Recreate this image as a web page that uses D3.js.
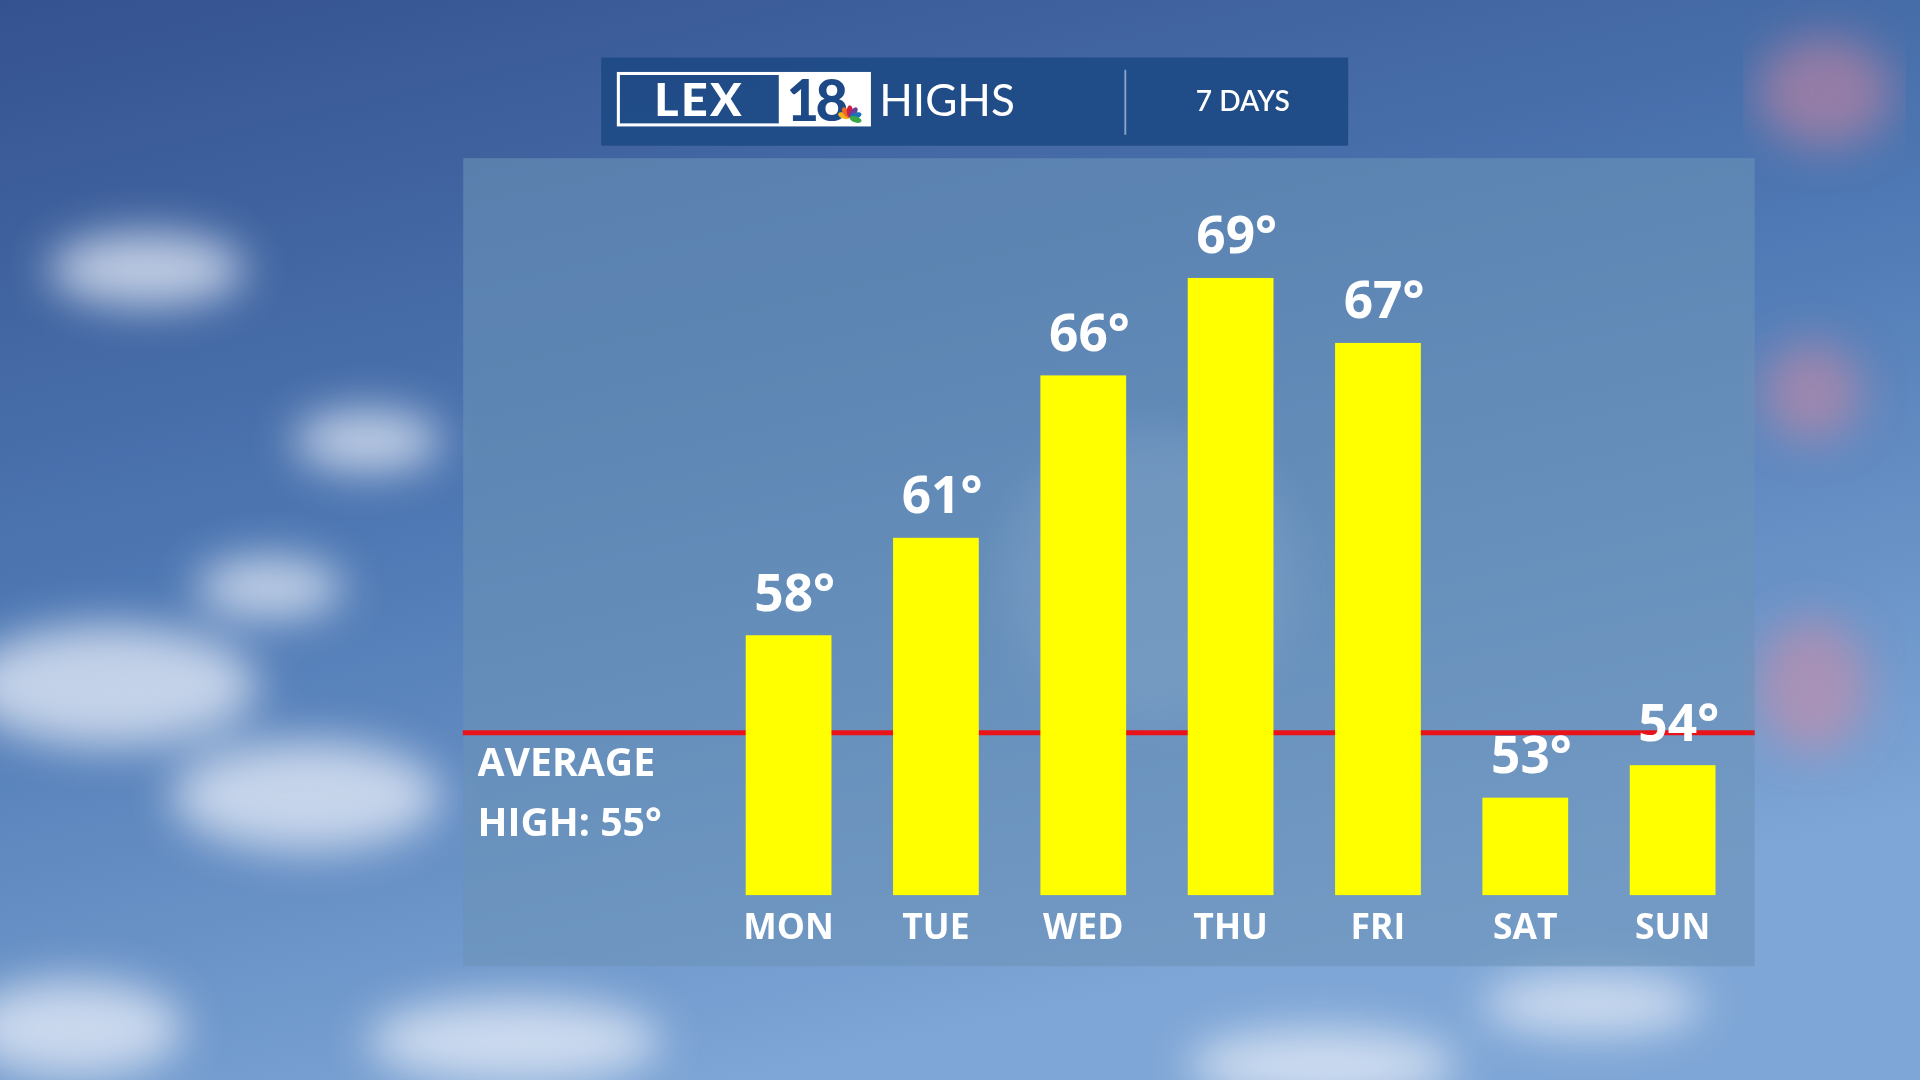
<!DOCTYPE html>
<html><head><meta charset="utf-8">
<script src="https://cdn.jsdelivr.net/npm/d3@7"></script>
<style>html,body{margin:0;padding:0;overflow:hidden;background:#3a5f9a}</style>
</head><body>
<svg id="c" width="1920" height="1080" viewBox="0 0 1568 882"></svg>
<script>
const days = ["MON","TUE","WED","THU","FRI","SAT","SUN"];
const highs = [58,61,66,69,67,53,54];
const averageHigh = 55;
const title = "HIGHS";
const subtitle = "7 DAYS";

const svg = d3.select("#c");
const defs = svg.append("defs");
const bg = defs.append("linearGradient").attr("id","sky").attr("x1",0).attr("y1",0).attr("x2",0.4).attr("y2",1);
bg.append("stop").attr("offset",0).attr("stop-color","#34528f");
bg.append("stop").attr("offset",0.5).attr("stop-color","#4f79b4");
bg.append("stop").attr("offset",1).attr("stop-color","#7ea6d6");
svg.append("rect").attr("width",1568).attr("height",882).attr("fill","url(#sky)");
defs.append("filter").attr("id","blur").append("feGaussianBlur").attr("stdDeviation",18);
const clouds = [[90,560,120,50],[250,650,110,45],[120,220,80,30],[300,360,60,25],[60,840,90,40],[420,850,120,35],[1080,870,110,30],[1300,820,90,25],[220,480,60,25]];
svg.append("g").attr("filter","url(#blur)").selectAll("ellipse").data(clouds).join("ellipse")
 .attr("cx",d=>d[0]).attr("cy",d=>d[1]).attr("rx",d=>d[2]).attr("ry",d=>d[3]).attr("fill","#e8eef8").attr("opacity",0.75);
svg.append("g").attr("filter","url(#blur)").selectAll("ellipse").data([[1490,75,55,45],[1480,560,45,55],[1480,320,40,40]]).join("ellipse")
 .attr("cx",d=>d[0]).attr("cy",d=>d[1]).attr("rx",d=>d[2]).attr("ry",d=>d[3]).attr("fill","#e08aa0").attr("opacity",0.5);
svg.append("ellipse").attr("cx",940).attr("cy",470).attr("rx",120).attr("ry",120).attr("fill","#c8dcef").attr("opacity",0.3).attr("filter","url(#blur)");

// panel
svg.append("rect").attr("x",378).attr("y",129).attr("width",1055).attr("height",660).attr("fill","#6a93b8").attr("opacity",0.6);

// header
svg.append("rect").attr("x",491).attr("y",47).attr("width",610).attr("height",72).attr("fill","#1d4a86").attr("opacity",0.92);
svg.append("line").attr("x1",919).attr("x2",919).attr("y1",57).attr("y2",110).attr("stroke","#8aa6cc").attr("stroke-width",1.5);
svg.append("rect").attr("x",505).attr("y",60).attr("width",205).attr("height",42).attr("fill","none").attr("stroke","#fff").attr("stroke-width",2.5);
svg.append("rect").attr("x",636).attr("y",60).attr("width",74).attr("height",42).attr("fill","#fff");
svg.append("text").attr("x",571).attr("y",95).attr("text-anchor","middle").attr("fill","#fff").attr("font-family","Lato").attr("font-weight",900).attr("font-size",38).attr("letter-spacing",2).text("LEX");
svg.append("text").attr("x",666).attr("y",99).attr("text-anchor","middle").attr("fill","#1d4a86").attr("font-family","Lato").attr("font-weight",900).attr("font-size",46).attr("letter-spacing",-3).text("18");
const pc = ["#f6b21a","#ef6b22","#d11f3f","#6b3f98","#1e6fb8","#37a845"];
pc.forEach((c,i)=>{const a=(-180+ i*36+18)*Math.PI/180;
 svg.append("ellipse").attr("cx",694+Math.cos(a)*5).attr("cy",96+Math.sin(a)*5).attr("rx",5).attr("ry",2.5)
 .attr("transform",`rotate(${-180+i*36+18},${694+Math.cos(a)*5},${96+Math.sin(a)*5})`).attr("fill",c);});
svg.append("text").attr("x",718).attr("y",95).attr("fill","#fff").attr("font-family","Lato").attr("font-size",36).text(title);
svg.append("text").attr("x",1015).attr("y",91).attr("text-anchor","middle").attr("fill","#fff").attr("font-family","Lato").attr("font-weight",600).attr("font-size",23).text(subtitle);

// scales
const x = d3.scaleBand().domain(days).range([609,1401]).paddingInner(0.418).paddingOuter(0);
const y = d3.scaleLinear().domain([50,69]).range([731,227]);
const f = "Open Sans";
svg.append("line").attr("x1",378).attr("x2",1433).attr("y1",y(averageHigh)).attr("y2",y(averageHigh)).attr("stroke","#e8141a").attr("stroke-width",4);
svg.selectAll(".bar").data(highs).join("rect").attr("fill","#ffff00")
 .attr("x",(d,i)=>x(days[i])).attr("width",x.bandwidth()).attr("y",d=>y(d)).attr("height",d=>731-y(d));
svg.selectAll(".val").data(highs).join("text").attr("fill","#fff").attr("font-family",f).attr("font-weight",700).attr("font-size",42)
 .attr("text-anchor","middle").attr("x",(d,i)=>x(days[i])+x.bandwidth()/2+5).attr("y",d=>y(d)-20).text(d=>d+"°");
const xa = svg.append("g").attr("transform","translate(0,731)").call(d3.axisBottom(x).tickSize(0).tickPadding(10));
xa.select(".domain").remove();
xa.selectAll("text").attr("fill","#fff").attr("font-family",f).attr("font-weight",700).attr("font-size",29).attr("dy","0.9em");
svg.append("text").attr("x",390).attr("y",634).attr("fill","#fff").attr("font-family",f).attr("font-weight",700).attr("font-size",32).text("AVERAGE");
svg.append("text").attr("x",390).attr("y",683).attr("fill","#fff").attr("font-family",f).attr("font-weight",700).attr("font-size",32).text("HIGH: "+averageHigh+"°");
</script></body></html>
